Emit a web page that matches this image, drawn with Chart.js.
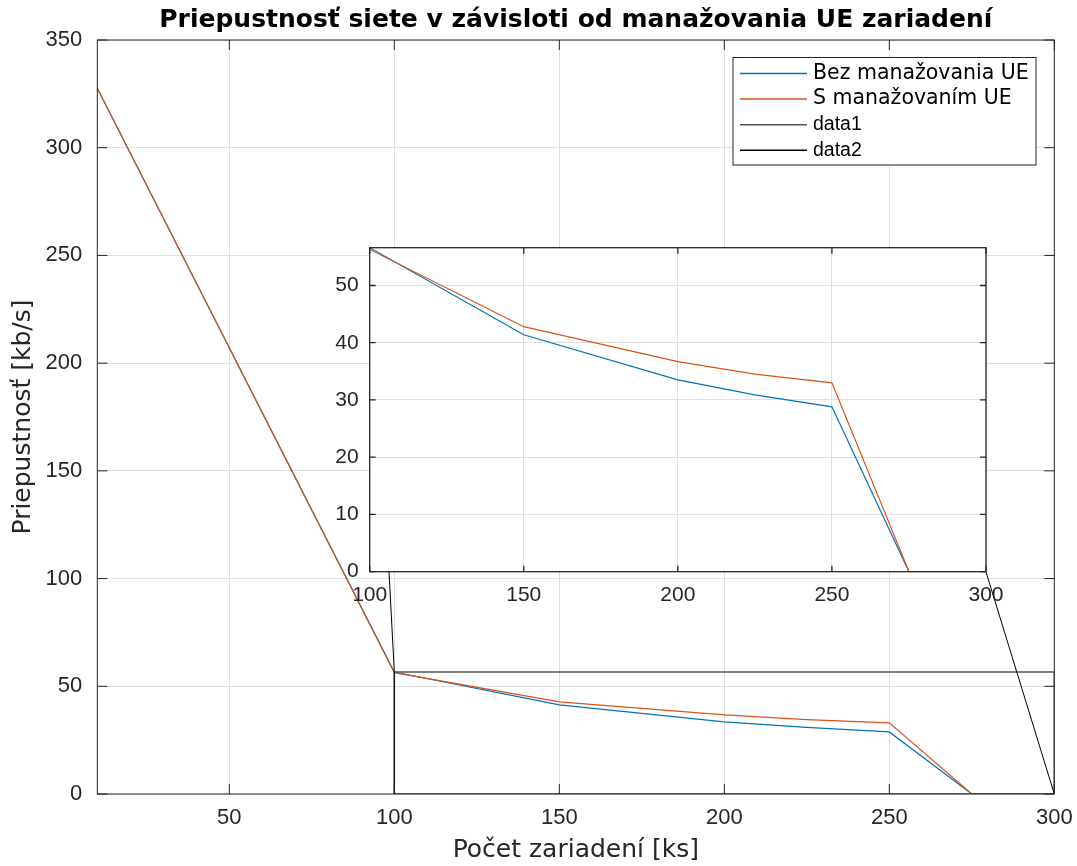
<!DOCTYPE html>
<html>
<head>
<meta charset="utf-8">
<script src="https://cdn.jsdelivr.net/npm/chart.js@4.4.0/dist/chart.umd.min.js"></script>
<style>
  body { margin: 0; background: #fff; }
  #wrap { position: relative; width: 1077px; height: 866px; }
  #mainChart { position: absolute; left: 0; top: 0; }
  #insetChart { position: absolute; left: 320px; top: 230px; }
</style>
</head>
<body>
<div id="wrap">
  <canvas id="mainChart" width="1077" height="866"></canvas>
  <canvas id="insetChart" width="690" height="380"></canvas>
</div>
<script>
// values
const devices = [10, 100, 150, 200, 225, 250, 275, 300];
const bezManazovania = [327.6, 56.6, 41.4, 33.5, 30.9, 28.8, 0, 0];
const sManazovanim = [327.6, 56.3, 42.8, 36.7, 34.5, 33.0, 0, 0];

// zoom rectangle (data1) and connector lines (data2)
const zoomBoxX = [100, 100, 300, 300, 100];
const zoomBoxY = [0, 56.6, 56.6, 0, 0];
const connectX = [100, 100, 98.4, null, 300, 279.3];
const connectY = [0, 56.6, 103.1, null, 0, 103.1];

const mainXTicks = [50, 100, 150, 200, 250, 300];
const mainYTicks = [0, 50, 100, 150, 200, 250, 300, 350];
const insetXTicks = [100, 150, 200, 250, 300];
const insetYTicks = [0, 10, 20, 30, 40, 50];

const seriesLabels = ['Bez manažovania UE', 'S manažovaním UE', 'data1', 'data2'];

const BLUE = '#0072BD';
const ORANGE = '#D95319';
const AXIS = '#262626';
const GRID = '#dfdfdf';

function pts(xs, ys) {
  return xs.map((x, i) => ({ x: x, y: ys[i] }));
}

// no extra room for edge labels, the plot area is set by the layout padding
function noEdgePad(s) {
  s.paddingLeft = 0; s.paddingRight = 0; s.paddingTop = 0; s.paddingBottom = 0;
}

// box around the plot with inward ticks
const matlabBox = {
  id: 'matlabBox',
  afterDatasetsDraw(chart, args, o) {
    const { ctx, chartArea: a, scales } = chart;
    ctx.save();
    ctx.strokeStyle = o.color;
    ctx.lineWidth = o.width;
    ctx.beginPath();
    scales.x.ticks.forEach(t => {
      const px = scales.x.getPixelForValue(t.value);
      ctx.moveTo(px, a.bottom); ctx.lineTo(px, a.bottom - o.len);
      ctx.moveTo(px, a.top); ctx.lineTo(px, a.top + o.len);
    });
    scales.y.ticks.forEach(t => {
      const py = scales.y.getPixelForValue(t.value);
      ctx.moveTo(a.left, py); ctx.lineTo(a.left + o.len, py);
      ctx.moveTo(a.right, py); ctx.lineTo(a.right - o.len, py);
    });
    ctx.stroke();
    ctx.strokeRect(a.left, a.top, a.right - a.left, a.bottom - a.top);
    ctx.restore();
  }
};

// white plot background for the inset
const plotBg = {
  id: 'plotBg',
  beforeDraw(chart) {
    const { ctx, chartArea: a } = chart;
    ctx.save();
    ctx.fillStyle = '#fff';
    ctx.fillRect(a.left, a.top, a.right - a.left, a.bottom - a.top);
    ctx.restore();
  }
};

// legend box in the upper right corner
const legendBox = {
  id: 'legendBox',
  afterDraw(chart, args, o) {
    const ctx = chart.ctx;
    ctx.save();
    ctx.fillStyle = '#fff';
    ctx.fillRect(o.x, o.y, o.w, o.h);
    ctx.strokeStyle = AXIS;
    ctx.lineWidth = 1;
    ctx.strokeRect(o.x, o.y, o.w, o.h);
    chart.data.datasets.forEach((ds, i) => {
      const cy = o.y + o.first + i * o.row;
      ctx.strokeStyle = ds.borderColor;
      ctx.lineWidth = 1.5;
      ctx.beginPath();
      ctx.moveTo(o.x + 7, cy);
      ctx.lineTo(o.x + 74, cy);
      ctx.stroke();
      ctx.fillStyle = '#000';
      ctx.font = ds.legendFont;
      ctx.textBaseline = 'middle';
      ctx.textAlign = 'left';
      ctx.fillText(ds.label, o.x + 80, cy);
    });
    ctx.restore();
  }
};

new Chart(document.getElementById('mainChart'), {
  type: 'line',
  data: {
    datasets: [
      { label: seriesLabels[0], data: pts(devices, bezManazovania), borderColor: BLUE, borderWidth: 1.2, order: 1, legendFont: '20.5px "DejaVu Sans"' },
      { label: seriesLabels[1], data: pts(devices, sManazovanim), borderColor: ORANGE, borderWidth: 1.2, order: 0, legendFont: '20.5px "DejaVu Sans"' },
      { label: seriesLabels[2], data: pts(zoomBoxX, zoomBoxY), borderColor: '#555555', borderWidth: 1.6, order: -1, legendFont: '19.5px "Liberation Sans"' },
      { label: seriesLabels[3], data: pts(connectX, connectY), borderColor: '#000000', borderWidth: 1, order: -2, legendFont: '19.5px "Liberation Sans"' }
    ]
  },
  options: {
    responsive: false,
    animation: false,
    layout: { padding: { left: 0, right: 22.7, top: 0, bottom: 0 } },
    elements: { point: { radius: 0 }, line: { tension: 0, fill: false } },
    scales: {
      x: {
        type: 'linear', min: 10, max: 300,
        afterBuildTicks: s => { s.ticks = mainXTicks.map(v => ({ value: v })); },
        afterFit: s => { s.height = 72; noEdgePad(s); },
        grid: { color: GRID, drawTicks: false },
        border: { display: false },
        ticks: { color: AXIS, font: { family: 'Liberation Sans', size: 22 }, padding: 11, maxRotation: 0, autoSkip: false },
        title: { display: true, text: 'Počet zariadení [ks]', color: AXIS, font: { family: 'DejaVu Sans', size: 25 }, padding: { top: 0, bottom: 1 } }
      },
      y: {
        type: 'linear', min: 0, max: 350,
        afterBuildTicks: s => { s.ticks = mainYTicks.map(v => ({ value: v })); },
        afterFit: s => { s.width = 97.3; noEdgePad(s); },
        grid: { color: GRID, drawTicks: false },
        border: { display: false },
        ticks: { color: AXIS, font: { family: 'Liberation Sans', size: 22 }, padding: 15, autoSkip: false },
        title: { display: true, text: 'Priepustnosť [kb/s]', color: AXIS, font: { family: 'DejaVu Sans', size: 25 }, padding: { top: 8, bottom: 0 } }
      }
    },
    plugins: {
      legend: { display: false },
      tooltip: { enabled: false },
      title: {
        display: true, fullSize: false,
        text: 'Priepustnosť siete v závisloti od manažovania UE zariadení',
        color: '#000', font: { family: 'DejaVu Sans', size: 25, weight: 'bold' },
        padding: { top: 5, bottom: 5 }
      },
      matlabBox: { color: AXIS, width: 1, len: 10 },
      legendBox: { x: 733, y: 57.5, w: 303, h: 107.5, first: 16, row: 25.6 }
    }
  },
  plugins: [matlabBox, legendBox]
});

new Chart(document.getElementById('insetChart'), {
  type: 'line',
  data: {
    datasets: [
      { label: seriesLabels[0], data: pts(devices, bezManazovania), borderColor: BLUE, borderWidth: 1.2, order: 1 },
      { label: seriesLabels[1], data: pts(devices, sManazovanim), borderColor: ORANGE, borderWidth: 1.2, order: 0 }
    ]
  },
  options: {
    responsive: false,
    animation: false,
    layout: { padding: { left: 0, right: 24, top: 17.7, bottom: 0 } },
    elements: { point: { radius: 0 }, line: { tension: 0, fill: false } },
    scales: {
      x: {
        type: 'linear', min: 100, max: 300,
        afterBuildTicks: s => { s.ticks = insetXTicks.map(v => ({ value: v })); },
        afterFit: s => { s.height = 38.3; noEdgePad(s); },
        grid: { color: GRID, drawTicks: false },
        border: { display: false },
        ticks: { color: AXIS, font: { family: 'Liberation Sans', size: 21 }, padding: 11, maxRotation: 0, autoSkip: false }
      },
      y: {
        type: 'linear', min: 0, max: 56.6,
        afterBuildTicks: s => { s.ticks = insetYTicks.map(v => ({ value: v })); },
        afterFit: s => { s.width = 49.7; noEdgePad(s); },
        grid: { color: GRID, drawTicks: false },
        border: { display: false },
        ticks: { color: AXIS, font: { family: 'Liberation Sans', size: 21 }, padding: 11, autoSkip: false }
      }
    },
    plugins: {
      legend: { display: false },
      tooltip: { enabled: false },
      matlabBox: { color: AXIS, width: 1.3, len: 6 }
    }
  },
  plugins: [plotBg, matlabBox]
});
</script>
</body>
</html>
